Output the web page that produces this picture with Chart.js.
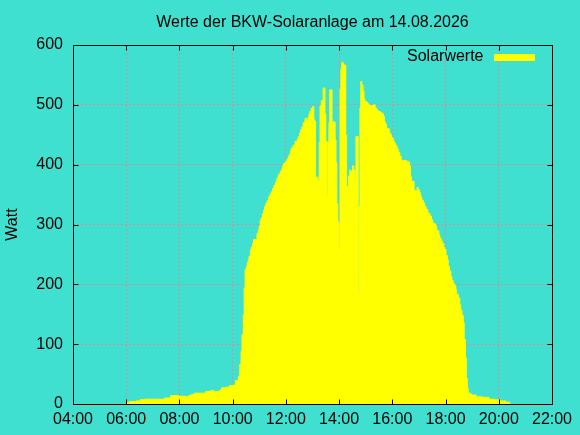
<!DOCTYPE html>
<html>
<head>
<meta charset="utf-8">
<script src="https://cdn.jsdelivr.net/npm/chart.js@4/dist/chart.umd.min.js"></script>
<style>
  html, body { margin: 0; padding: 0; background: #40e0d0; }
  canvas { display: block; }
</style>
</head>
<body>
<canvas id="solarChart" width="580" height="435"></canvas>
<script>
// Solar readings of 14.08.2026 (time of change, watts)

var times = [
  '06:01','06:07','06:22','06:31','06:42','07:27','07:40','07:57','08:14','08:21',
  '08:27','08:34','08:59','09:10','09:19','09:23','09:30','09:35','09:45','09:53',
  '09:59','10:06','10:13','10:16','10:19','10:21','10:24','10:26','10:28','10:31',
  '10:33','10:35','10:37','10:40','10:42','10:45','10:47','10:55','10:58','11:00',
  '11:02','11:04','11:07','11:10','11:12','11:15','11:18','11:21','11:23','11:25',
  '11:28','11:30','11:33','11:36','11:38','11:40','11:43','11:45','11:48','11:51',
  '11:53','11:55','11:58','12:00','12:03','12:06','12:08','12:11','12:13','12:16',
  '12:18','12:21','12:26','12:28','12:31','12:33','12:36','12:39','12:43','12:47',
  '12:50','12:52','12:54','12:57','13:00','13:03','13:05','13:07','13:12','13:15',
  '13:17','13:20','13:24','13:28','13:30','13:33','13:35','13:37','13:39','13:44',
  '13:46','13:48','13:51','13:53','13:55','13:57','14:00','14:02','14:04','14:06',
  '14:09','14:11','14:15','14:17','14:19','14:21','14:24','14:26','14:28','14:30',
  '14:33','14:36','14:38','14:43','14:45','14:47','14:49','14:51','14:54','14:56',
  '14:58','15:00','15:03','15:05','15:07','15:09','15:12','15:14','15:18','15:21',
  '15:23','15:25','15:28','15:30','15:32','15:35','15:37','15:40','15:42','15:44',
  '15:47','15:53','15:56','15:58','16:02','16:05','16:07','16:10','16:12','16:14',
  '16:17','16:20','16:22','16:25','16:32','16:37','16:39','16:41','16:43','16:49',
  '16:54','16:56','16:58','17:01','17:03','17:05','17:07','17:10','17:13','17:16',
  '17:18','17:20','17:22','17:25','17:28','17:31','17:33','17:38','17:40','17:42',
  '17:45','17:47','17:50','17:53','17:56','17:58','18:01','18:04','18:06','18:09',
  '18:12','18:14','18:17','18:20','18:23','18:25','18:29','18:32','18:34','18:37',
  '18:40','18:42','18:45','18:47','18:49','18:51','18:54','18:58','19:09','19:23',
  '19:38','19:50','20:02','20:16','20:25'
];

var watts = [
  2, 4, 5, 7, 8, 10, 14, 13, 12, 14,
  16, 18, 21, 22, 20, 21, 23, 27, 28, 31,
  31, 39, 46, 66, 88, 116, 149, 194, 225, 230,
  236, 241, 247, 257, 262, 268, 275, 285, 291, 297,
  306, 311, 318, 324, 330, 336, 340, 346, 348, 352,
  355, 360, 365, 369, 373, 378, 383, 385, 389, 394,
  398, 402, 404, 406, 410, 414, 418, 425, 428, 432,
  433, 439, 443, 447, 453, 458, 463, 470, 477, 475,
  479, 484, 489, 494, 497, 475, 472, 379, 374, 437,
  498, 507, 528, 485, 439, 347, 437, 470, 525, 443,
  472, 471, 441, 403, 335, 304, 258, 526, 559, 571,
  569, 566, 449, 364, 340, 381, 391, 366, 389, 398,
  391, 374, 447, 184, 330, 495, 539, 533, 523, 510,
  506, 505, 503, 502, 500, 499, 496, 499, 500, 496,
  494, 491, 490, 489, 488, 486, 485, 481, 472, 468,
  460, 453, 450, 445, 439, 436, 432, 429, 425, 420,
  414, 408, 406, 407, 405, 404, 398, 380, 372, 357,
  346, 362, 358, 354, 348, 344, 340, 336, 330, 326,
  325, 320, 318, 314, 308, 303, 301, 297, 291, 289,
  283, 277, 272, 268, 262, 258, 248, 241, 230, 222,
  213, 207, 201, 198, 191, 183, 177, 166, 157, 148,
  136, 108, 77, 43, 27, 19, 17, 15, 12, 11,
  8, 7, 5, 3, 0
];

var seriesLabel = 'Solarwerte';
var chartTitle = 'Werte der BKW-Solaranlage am 14.08.2026';
var yAxisLabel = 'Watt';
var xMinTime = '04:00';
var xMaxTime = '22:00';
var yMax = 600;

var FONT = "'Liberation Sans', Arial, sans-serif";
var GRID_COLOR = '#d88c94';

function toMinutes(hhmm) {
  var parts = hhmm.split(':');
  return parseInt(parts[0], 10) * 60 + parseInt(parts[1], 10);
}

function formatClock(minutes) {
  var h = Math.floor(minutes / 60);
  var m = minutes % 60;
  return (h < 10 ? '0' : '') + h + ':' + (m < 10 ? '0' : '') + m;
}

function buildPoints() {
  var points = [];
  for (var i = 0; i < times.length; i++) {
    points.push({ x: toMinutes(times[i]), y: watts[i] });
  }
  return points;
}

// gnuplot style frame: border on all four sides, ticks pointing inwards
var framePlugin = {
  id: 'frame',
  afterDatasetsDraw: function (chart) {
    var ctx = chart.ctx;
    var area = chart.chartArea;
    var xs = chart.scales.x;
    var ys = chart.scales.y;
    var l = Math.round(area.left) + 0.5;
    var r = Math.round(area.right) + 0.5;
    var t = Math.round(area.top) + 0.5;
    var b = Math.round(area.bottom) + 0.5;
    var len = 5;

    ctx.save();
    ctx.strokeStyle = '#000000';
    ctx.lineWidth = 1;
    ctx.beginPath();
    xs.ticks.forEach(function (tk) {
      var px = Math.round(xs.getPixelForValue(tk.value)) + 0.5;
      ctx.moveTo(px, b); ctx.lineTo(px, b - len);
      ctx.moveTo(px, t); ctx.lineTo(px, t + len);
    });
    ys.ticks.forEach(function (tk) {
      var py = Math.round(ys.getPixelForValue(tk.value)) + 0.5;
      ctx.moveTo(l, py); ctx.lineTo(l + len, py);
      ctx.moveTo(r, py); ctx.lineTo(r - len, py);
    });
    ctx.stroke();
    ctx.strokeRect(l, t, r - l, b - t);
    ctx.restore();
  }
};

// key in the top right corner: text first, then the sample box
var keyPlugin = {
  id: 'key',
  afterDraw: function (chart) {
    var ctx = chart.ctx;
    var area = chart.chartArea;
    var ds = chart.data.datasets[0];
    var boxRight = Math.round(area.right) - 17;
    var boxLeft = boxRight - 41;
    var top = Math.round(area.top) + 9;

    ctx.save();
    ctx.fillStyle = ds.backgroundColor;
    ctx.fillRect(boxLeft, top, 41, 7);
    ctx.fillStyle = '#000000';
    ctx.font = '16px ' + FONT;
    ctx.textAlign = 'right';
    ctx.textBaseline = 'alphabetic';
    ctx.fillText(ds.label, boxLeft - 10.5, top + 7);
    ctx.restore();
  }
};

function renderSolarChart(elementId) {
  var ctx = document.getElementById(elementId).getContext('2d');

  var config = {
    type: 'line',
    data: {
      datasets: [{
        label: seriesLabel,
        data: buildPoints(),
        stepped: true,
        fill: 'origin',
        backgroundColor: '#ffff00',
        borderColor: '#ffff00',
        borderWidth: 1,
        pointRadius: 0
      }]
    },
    options: {
      responsive: false,
      animation: false,
      devicePixelRatio: 1,
      layout: { padding: { left: 0, right: 28, top: 0, bottom: 0 } },
      plugins: {
        legend: { display: false },
        tooltip: { enabled: false },
        title: {
          display: true,
          fullSize: false,
          text: chartTitle,
          color: '#000000',
          font: { family: FONT, size: 16, weight: 'normal' },
          padding: { top: 12.5, bottom: 13.3 }
        }
      },
      scales: {
        x: {
          type: 'linear',
          min: toMinutes(xMinTime),
          max: toMinutes(xMaxTime),
          afterFit: function (scale) { scale.height = 31; },
          grid: { color: GRID_COLOR, drawTicks: false },
          border: { display: false, dash: [2, 2] },
          ticks: {
            stepSize: 120,
            padding: 6,
            color: '#000000',
            maxRotation: 0,
            font: { family: FONT, size: 16 },
            callback: function (value) { return formatClock(value); }
          }
        },
        y: {
          min: 0,
          max: yMax,
          afterFit: function (scale) { scale.width = 73; },
          grid: { color: GRID_COLOR, drawTicks: false },
          border: { display: false, dash: [2, 2] },
          title: {
            display: true,
            text: yAxisLabel,
            color: '#000000',
            font: { family: FONT, size: 16 },
            padding: { top: 3, bottom: 0 }
          },
          ticks: {
            stepSize: 100,
            padding: 10,
            color: '#000000',
            font: { family: FONT, size: 16 }
          }
        }
      }
    },
    plugins: [framePlugin, keyPlugin]
  };

  return new Chart(ctx, config);
}

renderSolarChart('solarChart');
</script>
</body>
</html>
